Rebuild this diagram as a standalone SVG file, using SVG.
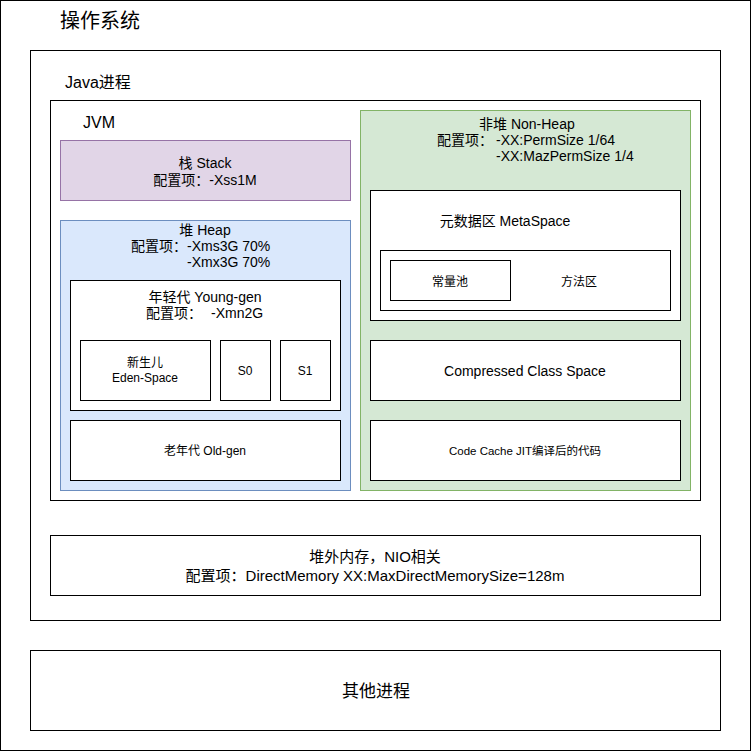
<svg xmlns="http://www.w3.org/2000/svg" width="751" height="751" viewBox="0 0 751 751">
<style>
  rect { stroke: #000; stroke-width: 1; fill: #fff; }
  rect.frame { fill: none; }
  rect.stack { fill: #e1d5e7; stroke: #9673a6; }
  rect.heap { fill: #dae8fc; stroke: #6c8ebf; }
  rect.nonheap { fill: #d5e8d4; stroke: #82b366; }
  text { font-family: "Liberation Sans", "Noto Sans CJK SC", sans-serif; font-size: 14px; fill: #000; }
  .c { text-anchor: middle; }
  .s12 { font-size: 12px; }
  .s11 { font-size: 11.5px; }
</style>
<rect width="751" height="751" style="fill:#fff;stroke:none"/>
<g id="os">
  <rect class="frame" x="0.5" y="0.5" width="750" height="750"/>
  <text x="60" y="28" style="font-size:20px">操作系统</text>
</g>
<g id="java-process">
  <rect class="frame" x="30.5" y="50.5" width="690" height="570"/>
  <text x="65" y="88" style="font-size:16px">Java进程</text>
</g>
<g id="jvm">
  <rect class="frame" x="50.5" y="100.5" width="650" height="400"/>
  <text x="83" y="128" style="font-size:16px">JVM</text>
</g>
<g id="stack">
  <rect class="stack" x="60.5" y="140.5" width="290" height="60"/>
  <text class="c" x="205" y="168">栈 Stack</text>
  <text class="c" x="205" y="185">配置项：-Xss1M</text>
</g>
<g id="heap">
  <rect class="heap" x="60.5" y="220.5" width="290" height="270"/>
  <text class="c" x="205" y="235">堆 Heap</text>
  <text x="131" y="251">配置项：<tspan x="187">-Xms3G 70%</tspan></text>
  <text x="187" y="267">-Xmx3G 70%</text>
</g>
<g id="young-gen">
  <rect x="70.5" y="280.5" width="270" height="130"/>
  <text class="c" x="205" y="302">年轻代 Young-gen</text>
  <text x="146" y="318">配置项：<tspan x="211">-Xmn2G</tspan></text>
</g>
<g id="eden">
  <rect x="80.5" y="340.5" width="130" height="60"/>
  <text class="c s12" x="145" y="367">新生儿</text>
  <text class="c s12" x="145" y="382">Eden-Space</text>
</g>
<g id="s0">
  <rect x="220.5" y="340.5" width="50" height="60"/>
  <text class="c s12" x="245" y="375">S0</text>
</g>
<g id="s1">
  <rect x="280.5" y="340.5" width="50" height="60"/>
  <text class="c s12" x="305" y="375">S1</text>
</g>
<g id="old-gen">
  <rect x="70.5" y="420.5" width="270" height="60"/>
  <text class="c s12" x="205" y="455">老年代 Old-gen</text>
</g>
<g id="non-heap">
  <rect class="nonheap" x="360.5" y="110.5" width="330" height="380"/>
  <text x="479" y="129">非堆 Non-Heap</text>
  <text x="437" y="145">配置项：<tspan x="496">-XX:PermSize 1/64</tspan></text>
  <text x="496" y="161">-XX:MazPermSize 1/4</text>
</g>
<g id="metaspace">
  <rect x="370.5" y="190.5" width="310" height="130"/>
  <text class="c" x="505" y="226">元数据区 MetaSpace</text>
</g>
<g id="method-area">
  <rect x="380.5" y="250.5" width="290" height="60"/>
  <text class="c s12" x="579" y="286">方法区</text>
</g>
<g id="constant-pool">
  <rect x="390.5" y="260.5" width="120" height="40"/>
  <text class="c s12" x="450" y="286">常量池</text>
</g>
<g id="compressed-class-space">
  <rect x="370.5" y="340.5" width="310" height="60"/>
  <text class="c" x="525" y="376">Compressed Class Space</text>
</g>
<g id="code-cache">
  <rect x="370.5" y="420.5" width="310" height="60"/>
  <text class="c s11" x="525" y="455">Code Cache JIT编译后的代码</text>
</g>
<g id="direct-memory">
  <rect x="50.5" y="535.5" width="650" height="60"/>
  <text class="c" x="375" y="562" style="font-size:15px">堆外内存，NIO相关</text>
  <text class="c" x="375" y="581" style="font-size:15px">配置项：DirectMemory XX:MaxDirectMemorySize=128m</text>
</g>
<g id="other-process">
  <rect x="30.5" y="650.5" width="690" height="80"/>
  <text class="c" x="376" y="697" style="font-size:17px">其他进程</text>
</g>
<g id="connectors"></g>
</svg>
